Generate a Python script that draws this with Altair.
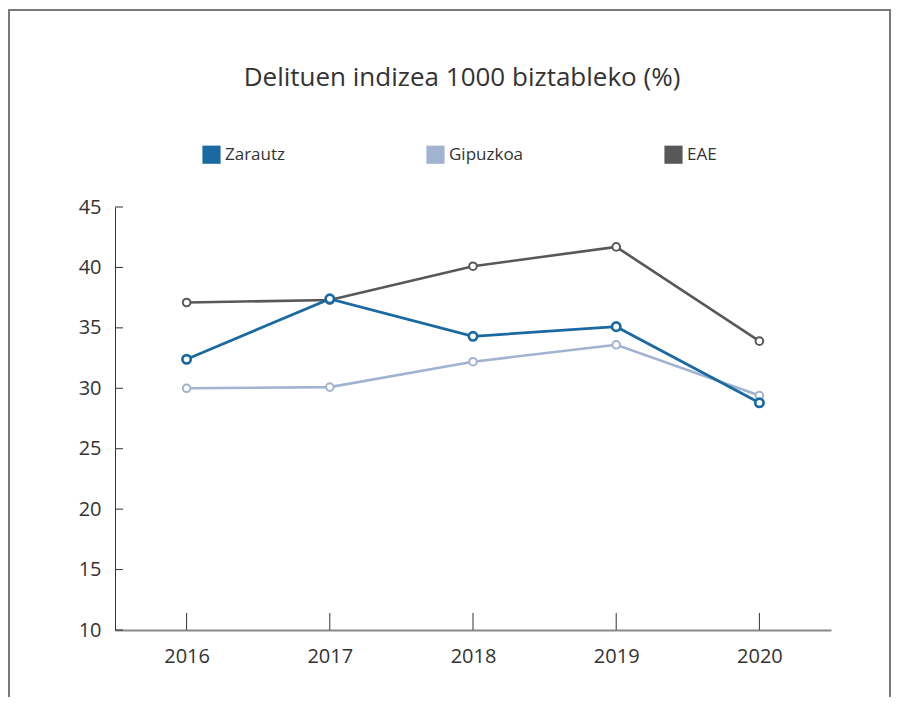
import altair as alt
import pandas as pd

years = ["2016", "2017", "2018", "2019", "2020"]
series_names = ["Zarautz", "Gipuzkoa", "EAE"]
zarautz = [32.4, 37.4, 34.3, 35.1, 28.8]
gipuzkoa = [30.0, 30.1, 32.2, 33.6, 29.4]
eae = [37.1, 37.3, 40.1, 41.7, 33.9]
colors = ["#1a6aa1", "#a2b3d1", "#58585a"]
y_ticks = [10, 15, 20, 25, 30, 35, 40, 45]
title_text = "Delituen indizea 1000 biztableko (%)"

rows = []
for name, vals in [("Gipuzkoa", gipuzkoa), ("EAE", eae), ("Zarautz", zarautz)]:
    for yr, v in zip(years, vals):
        rows.append({"year": yr, "series": name, "value": v})
df = pd.DataFrame(rows)

W, H = 716, 423
FONT = "Open Sans"

xscale = alt.Scale(type="point", padding=0.5, domain=years)
yscale = alt.Scale(domain=[10, 45], nice=False, zero=False)
cscale = alt.Scale(domain=series_names, range=colors)

color = alt.Color("series:N", scale=cscale, legend=None)

legend_fill = alt.Fill(
    "series:N",
    scale=cscale,
    legend=alt.Legend(
        title=None, orient="none", legendX=87, legendY=-62, direction="horizontal",
        columns=3, columnPadding=140, symbolType="square", symbolSize=330,
        symbolStrokeWidth=0, symbolOpacity=1, labelFontSize=17, labelColor="#333333",
        labelFont=FONT, labelOffset=4,
    ),
)

x = alt.X("year:O", scale=xscale, title=None,
          axis=alt.Axis(labelAngle=0, labelAlign="center", labelBaseline="top",
                        tickSize=0, labelPadding=16, labelFontSize=20,
                        labelColor="#333333", labelFont=FONT, domainColor="#8a8a8a",
                        domainWidth=2, grid=False))
y = alt.Y("value:Q", scale=yscale, title=None,
          axis=alt.Axis(values=y_ticks, tickSize=0, labelPadding=14, labelFontSize=20,
                        labelColor="#333333", labelFont=FONT, domainColor="#333333",
                        domainWidth=1, grid=False))

is_z = "datum.series == 'Zarautz'"

lines = alt.Chart(df).mark_line().encode(
    x=x, y=y, color=color,
    strokeWidth=alt.condition(is_z, alt.value(2.8), alt.value(2.6)),
    order=alt.Order("year:O"))
points = alt.Chart(df).mark_point(filled=False, fill="white", fillOpacity=1, opacity=1).encode(
    x=x, y=y, color=color,
    size=alt.condition(is_z, alt.value(70), alt.value(58)),
    strokeWidth=alt.condition(is_z, alt.value(2.7), alt.value(2.0)),
)
legend_layer = alt.Chart(df).mark_square(size=0, opacity=0).encode(
    x=x, y=y, fill=legend_fill)

ytick_df = pd.DataFrame({"v": y_ticks})
yticks = alt.Chart(ytick_df).mark_rule(color="#333333", strokeWidth=1).encode(
    y=alt.Y("v:Q", scale=yscale), x=alt.value(0), x2=alt.value(8))

xtick_df = pd.DataFrame({"year": years})
xticks = alt.Chart(xtick_df).mark_rule(color="#333333", strokeWidth=1).encode(
    x=alt.X("year:O", scale=xscale), y=alt.value(H), y2=alt.value(H - 17))

frame = alt.Chart(pd.DataFrame({"f": [0]})).mark_rect(
    fill="white", fillOpacity=0, stroke="#7a7a7a", strokeWidth=2).encode(
    x=alt.value(-106), x2=alt.value(775), y=alt.value(-197), y2=alt.value(520))

title = alt.Chart(pd.DataFrame({"t": [title_text]})).mark_text(
    font=FONT, fontSize=26, color="#333333", align="center", baseline="alphabetic").encode(
    text="t:N", x=alt.value(347), y=alt.value(-121))

chart = alt.layer(frame, yticks, xticks, legend_layer, lines, points, title).properties(
    width=W, height=H,
    autosize=alt.AutoSizeParams(type="none"),
    padding={"left": 107, "top": 199, "right": 61, "bottom": 67},
).configure(background="white").configure_view(strokeWidth=0)

chart.save("out.html", embed_options={"renderer": "svg", "actions": False})
